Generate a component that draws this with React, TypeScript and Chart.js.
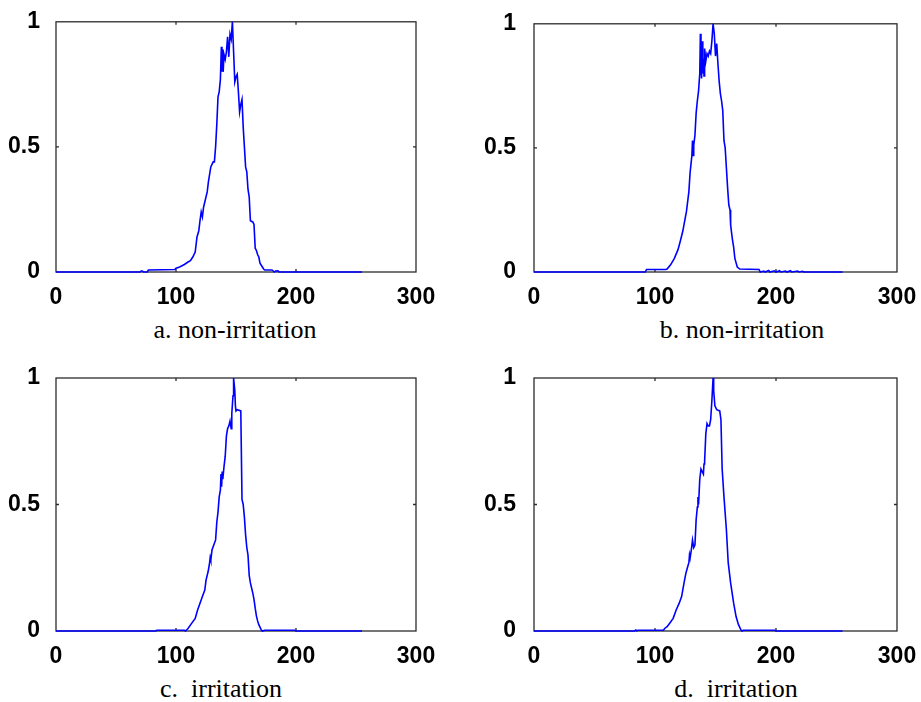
import React, { useEffect, useRef } from "react";
import { Chart, registerables } from "chart.js";

Chart.register(...registerables);

// ---------- data (bin index, normalized histogram value) ----------
const xTickStep = 100;
const yTickStep = 0.5;
const xMax = 300;
const yMax = 1;

const aX = [0, 70, 71, 72, 73, 76, 77, 99, 100, 103, 107, 110, 112, 114, 116, 117.5, 119, 120, 121, 122, 123, 124, 126, 127, 128, 129, 130, 131, 132, 133, 134, 135, 136, 137, 137.8, 138.3, 138.8, 139.3, 140, 141, 142, 143, 144, 145, 146, 147, 148, 149, 150, 151, 152, 153, 154, 155, 156, 157, 158, 159, 160, 161, 162, 164, 165, 166, 167, 168, 169, 170, 172, 173, 174, 180, 181, 182, 183, 185, 186, 255];
const aY = [0, 0, 0.004, 0.004, 0, 0, 0.008, 0.01, 0.015, 0.02, 0.03, 0.04, 0.045, 0.06, 0.08, 0.14, 0.165, 0.205, 0.24, 0.22, 0.26, 0.28, 0.32, 0.36, 0.39, 0.42, 0.43, 0.44, 0.44, 0.5, 0.59, 0.7, 0.72, 0.77, 0.9, 0.8, 0.89, 0.8, 0.87, 0.85, 0.88, 0.94, 0.86, 0.95, 0.93, 1.0, 0.88, 0.76, 0.78, 0.79, 0.72, 0.64, 0.67, 0.69, 0.58, 0.5, 0.42, 0.4, 0.33, 0.3, 0.205, 0.2, 0.19, 0.095, 0.086, 0.07, 0.06, 0.035, 0.02, 0.012, 0.008, 0.008, 0.004, 0, 0.004, 0.005, 0, 0];

const bX = [0, 92, 93, 109, 110, 113, 116, 119, 121, 123, 124.5, 126, 128, 129, 130.5, 131, 131.5, 132, 133, 134, 135, 136, 137, 137.5, 138, 138.5, 139, 139.5, 140, 140.5, 141, 142, 143, 144, 145, 146, 147, 148, 149, 150, 151, 152, 153, 154, 155, 156, 157, 158, 159, 160, 161, 162, 162.5, 164, 165, 166, 168, 170, 186, 187, 190, 191, 194, 195, 198, 199, 200, 203, 204, 208, 209, 212, 213, 218, 219, 222, 223, 255];
const bY = [0, 0, 0.01, 0.01, 0.012, 0.03, 0.055, 0.09, 0.126, 0.165, 0.205, 0.244, 0.324, 0.4, 0.47, 0.53, 0.47, 0.51, 0.55, 0.64, 0.69, 0.73, 0.8, 0.96, 0.82, 0.78, 0.93, 0.8, 0.86, 0.79, 0.9, 0.85, 0.88, 0.87, 0.89, 0.88, 0.93, 1.0, 0.96, 0.87, 0.92, 0.84, 0.77, 0.72, 0.69, 0.65, 0.53, 0.5, 0.42, 0.34, 0.27, 0.25, 0.19, 0.13, 0.1, 0.055, 0.02, 0.012, 0.01, 0, 0.004, 0, 0.006, 0, 0.004, 0.004, 0, 0.005, 0, 0.004, 0, 0.005, 0, 0.004, 0, 0.003, 0, 0];

const cX = [0, 83, 84, 107, 108, 110, 113, 116, 118, 120, 122, 124, 125, 127, 128, 128.5, 129, 130, 132, 133, 134, 135, 136, 137, 137.5, 138, 138.5, 139, 140, 141, 142, 143, 144, 145, 146, 146.5, 147.5, 148, 149, 149.5, 150, 151, 154, 155, 156, 157, 158, 159, 160, 161, 162, 163, 164, 165, 166, 167, 168, 169, 170, 171, 172, 174, 199, 200, 255];
const cY = [0, 0, 0.003, 0.003, 0, 0.01, 0.03, 0.05, 0.083, 0.11, 0.136, 0.162, 0.2, 0.24, 0.27, 0.29, 0.28, 0.32, 0.347, 0.36, 0.43, 0.47, 0.53, 0.558, 0.62, 0.57, 0.63, 0.6, 0.65, 0.69, 0.77, 0.8, 0.81, 0.83, 0.8, 0.86, 0.93, 1.0, 0.95, 0.89, 0.87, 0.875, 0.87, 0.52, 0.5, 0.45, 0.38, 0.33, 0.3, 0.22, 0.19, 0.17, 0.15, 0.125, 0.09, 0.06, 0.04, 0.025, 0.015, 0.005, 0, 0.003, 0.003, 0, 0];

const dX = [0, 83, 84, 85, 86, 107, 108, 110, 112, 115, 117.5, 120, 122, 124, 125.5, 127, 128, 128.5, 129, 130, 131, 132, 133, 134, 135, 135.5, 136, 137, 138, 139, 140, 140.5, 141, 142, 143, 144, 145, 146, 147, 148, 148.5, 149.5, 151, 153.5, 154.5, 155.5, 157, 159, 160.5, 162.5, 165, 167, 169, 171, 172, 173, 199, 200, 255];
const dY = [0, 0, 0.004, 0.001, 0.003, 0.003, 0.01, 0.017, 0.03, 0.05, 0.083, 0.11, 0.136, 0.19, 0.228, 0.254, 0.27, 0.3, 0.288, 0.32, 0.36, 0.33, 0.34, 0.44, 0.49, 0.53, 0.5, 0.6, 0.64, 0.63, 0.62, 0.66, 0.67, 0.78, 0.82, 0.81, 0.81, 0.835, 0.91, 1.0, 0.95, 0.89, 0.875, 0.87, 0.835, 0.64, 0.53, 0.4, 0.27, 0.19, 0.11, 0.057, 0.025, 0.005, 0, 0.003, 0.003, 0, 0];

const captions = ["a. non-irritation", "b. non-irritation", "c.  irritation", "d.  irritation"];
const seriesX = [aX, bX, cX, dX];
const seriesY = [aY, bY, cY, dY];

// ---------- layout (page pixels) ----------
type Rect = { left: number; top: number; width: number; height: number };
type Area = { l: number; t: number; r: number; b: number };
const canvasRects: Rect[] = [
  { left: 0, top: 0, width: 460, height: 312 },
  { left: 460, top: 0, width: 461, height: 312 },
  { left: 0, top: 350, width: 460, height: 322 },
  { left: 460, top: 350, width: 461, height: 322 },
];
const areas: Area[] = [
  { l: 56, t: 19, r: 416, b: 272 },
  { l: 534, t: 19, r: 897, b: 272 },
  { l: 56, t: 378, r: 416, b: 631 },
  { l: 534, t: 378, r: 897, b: 631 },
];
const yLabelPad = [8, 10, 8, 10];
const captionPos = [
  { cx: 235, base: 339 },
  { cx: 742, base: 339 },
  { cx: 221, base: 698 },
  { cx: 736, base: 698 },
];

const tickFont = { family: "'Liberation Sans', Arial, sans-serif", size: 23, weight: "bold" as const };

const framePlugin = {
  id: "matlabFrame",
  beforeDatasetsDraw(chart: any) {
    const { ctx, chartArea: a, scales } = chart;
    const x = scales.x;
    const y = scales.y;
    const L = 3;
    ctx.save();
    ctx.strokeStyle = "#2b2b2b";
    ctx.lineWidth = 1.3;
    ctx.strokeRect(a.left, a.top, a.right - a.left, a.bottom - a.top);
    ctx.beginPath();
    x.ticks.forEach((t: any) => {
      if (t.value <= x.min || t.value >= x.max) return;
      const px = x.getPixelForValue(t.value);
      ctx.moveTo(px, a.bottom);
      ctx.lineTo(px, a.bottom - L);
      ctx.moveTo(px, a.top);
      ctx.lineTo(px, a.top + L);
    });
    y.ticks.forEach((t: any) => {
      if (t.value <= y.min || t.value >= y.max) return;
      const py = y.getPixelForValue(t.value);
      ctx.moveTo(a.left, py);
      ctx.lineTo(a.left + L, py);
      ctx.moveTo(a.right, py);
      ctx.lineTo(a.right - L, py);
    });
    ctx.stroke();
    ctx.restore();
  },
};

function Panel({ idx }: { idx: number }) {
  const ref = useRef<HTMLCanvasElement | null>(null);
  const rect = canvasRects[idx];
  const area = areas[idx];
  useEffect(() => {
    if (!ref.current) return;
    const yW = area.l - rect.left;
    const xH = rect.top + rect.height - area.b;
    const padTop = area.t - rect.top;
    const padRight = rect.left + rect.width - area.r;
    const xs = seriesX[idx];
    const ys = seriesY[idx];
    const chart = new Chart(ref.current, {
      type: "line",
      data: {
        datasets: [
          {
            data: xs.map((v, i) => ({ x: v, y: ys[i] })),
            borderColor: "#0000ff",
            borderWidth: 1.6,
            pointRadius: 0,
            tension: 0,
            fill: false,
            clip: false as any,
          },
        ],
      },
      options: {
        animation: false,
        responsive: false,
        devicePixelRatio: 1,
        layout: { padding: { top: padTop, right: padRight, left: 0, bottom: 0 } },
        plugins: { legend: { display: false }, tooltip: { enabled: false }, title: { display: false } },
        events: [],
        scales: {
          x: {
            type: "linear",
            min: 0,
            max: xMax,
            ticks: {
              stepSize: xTickStep,
              color: "#000",
              font: tickFont,
              padding: 4,
              maxRotation: 0,
              autoSkip: false,
              callback: (v: any) => String(v),
            },
            grid: { display: false },
            border: { display: false },
            afterFit: (s: any) => {
              s.height = xH;
            },
          },
          y: {
            type: "linear",
            min: 0,
            max: yMax,
            ticks: {
              stepSize: yTickStep,
              color: "#000",
              font: tickFont,
              padding: yLabelPad[idx],
              callback: (v: any) => String(v),
            },
            grid: { display: false },
            border: { display: false },
            afterFit: (s: any) => {
              s.width = yW;
            },
          },
        },
      } as any,
      plugins: [framePlugin],
    });
    return () => chart.destroy();
  }, [idx]);
  return (
    <div style={{ position: "absolute", left: rect.left, top: rect.top, width: rect.width, height: rect.height }}>
      <canvas ref={ref} width={rect.width} height={rect.height} style={{ display: "block", width: rect.width, height: rect.height }} />
    </div>
  );
}

export default function App() {
  return (
    <div style={{ position: "absolute", left: 0, top: 0, width: 921, height: 702, background: "#fff", overflow: "hidden" }}>
      {[0, 1, 2, 3].map((i) => (
        <Panel key={i} idx={i} />
      ))}
      {captions.map((c, i) => (
        <div
          key={"cap" + i}
          style={{
            position: "absolute",
            left: captionPos[i].cx - 200,
            width: 400,
            top: captionPos[i].base - 22,
            textAlign: "center",
            whiteSpace: "pre",
            fontFamily: "'Liberation Serif', 'Times New Roman', serif",
            fontSize: 26,
            lineHeight: "26px",
            color: "#000",
          }}
        >
          {c}
        </div>
      ))}
    </div>
  );
}
